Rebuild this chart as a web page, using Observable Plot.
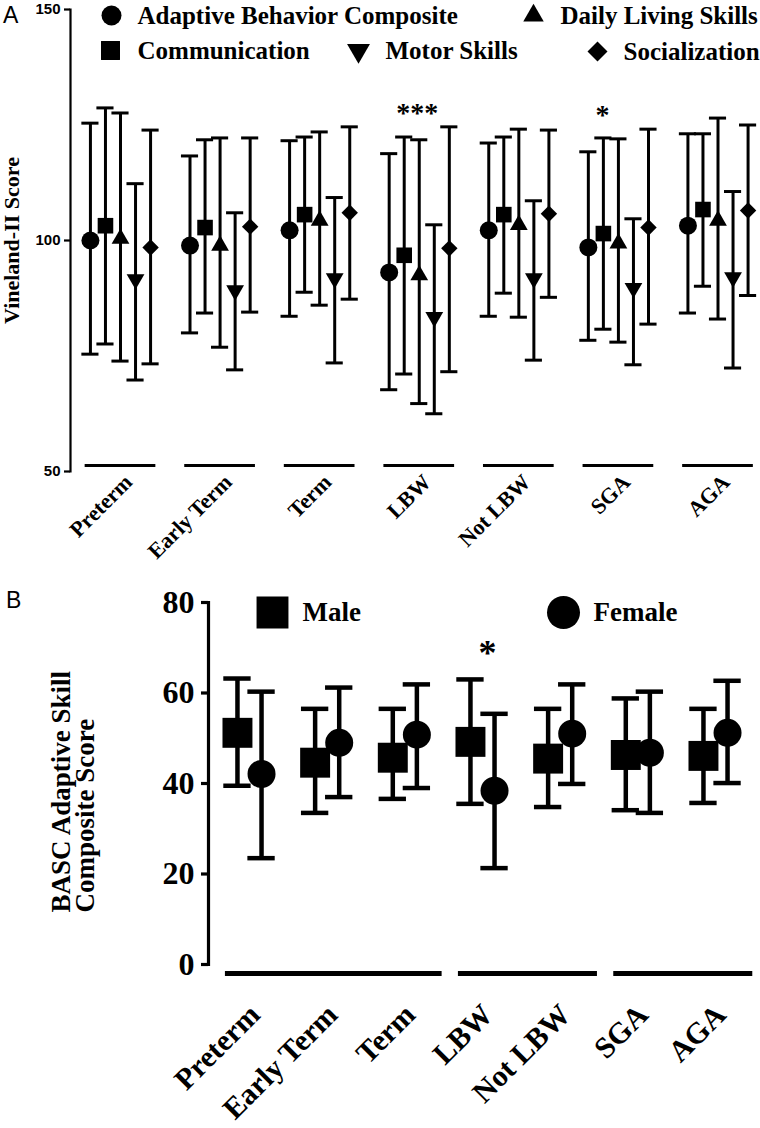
<!DOCTYPE html>
<html><head><meta charset="utf-8">
<script src="https://cdn.jsdelivr.net/npm/d3@7"></script>
<script src="https://cdn.jsdelivr.net/npm/@observablehq/plot@0.6"></script>
<style>
body{margin:0;background:#fff;}
#wrap{position:relative;width:760px;height:1128px;overflow:hidden;}
#wrap svg{display:block;}
.panel-letter{position:absolute;font-family:"Liberation Sans",Arial,sans-serif;font-size:23px;line-height:1;color:#000;}
</style></head><body>
<div id="wrap"></div>
<script>
// ---------------- data ----------------
const groups = ["Preterm", "Early Term", "Term", "LBW", "Not LBW", "SGA", "AGA"];

// Panel A: Vineland-II scores (mean, lower and upper whisker)
const vinelandSeries = ["Adaptive Behavior Composite", "Communication", "Daily Living Skills", "Motor Skills", "Socialization"];
const abcMean  = [100.0, 98.9, 102.2, 93.1, 102.2, 98.5, 103.2];
const abcLow   = [75.4, 80.0, 83.6, 67.7, 83.6, 78.4, 84.3];
const abcHigh  = [125.4, 118.3, 121.6, 118.8, 121.1, 119.2, 123.1];
const commMean = [103.2, 102.8, 105.6, 96.8, 105.6, 101.5, 106.7];
const commLow  = [77.6, 84.3, 88.8, 71.1, 88.6, 80.8, 90.1];
const commHigh = [128.7, 121.8, 122.4, 122.4, 122.4, 122.2, 123.1];
const dlsMean  = [100.4, 98.9, 104.3, 92.5, 103.4, 99.4, 104.3];
const dlsLow   = [73.9, 76.9, 86.0, 64.7, 83.4, 78.0, 83.0];
const dlsHigh  = [127.6, 122.2, 123.5, 121.8, 124.1, 122.0, 126.5];
const motorMean = [91.6, 89.2, 91.8, 83.4, 91.8, 89.7, 92.0];
const motorLow  = [69.8, 72.0, 73.5, 62.5, 74.1, 73.1, 72.4];
const motorHigh = [112.3, 106.0, 109.3, 103.4, 108.6, 104.7, 110.6];
const socMean  = [98.5, 103.0, 106.0, 98.3, 105.8, 102.8, 106.5];
const socLow   = [73.3, 84.5, 87.3, 71.6, 87.7, 81.9, 88.1];
const socHigh  = [123.9, 122.2, 124.6, 124.6, 123.9, 124.1, 125.0];
const vinelandSig = ["", "", "", "***", "", "*", ""];
const vinelandTicks = [50, 100, 150];

// Panel B: BASC Adaptive Skill Composite (mean, lower and upper whisker)
const sexSeries = ["Male", "Female"];
const maleMean   = [51.2, 44.6, 45.7, 49.2, 45.5, 46.3, 46.1];
const maleLow    = [39.5, 33.5, 36.6, 35.5, 34.8, 34.1, 35.7];
const maleHigh   = [63.2, 56.5, 56.5, 63.0, 56.5, 58.8, 56.5];
const femaleMean = [42.1, 49.0, 50.8, 38.4, 51.0, 46.8, 51.2];
const femaleLow  = [23.5, 37.0, 39.0, 21.3, 39.9, 33.5, 40.1];
const femaleHigh = [60.3, 61.2, 61.9, 55.4, 61.9, 60.3, 62.7];
const bascSig = ["", "", "", "*", "", "", ""];
const bascTicks = [0, 20, 40, 60, 80];
const bascSpans = [["Preterm", "Term"], ["LBW", "Not LBW"], ["SGA", "AGA"]];

// ---------------- helpers ----------------
const triangleDown = {
  draw(context, size) {
    const y = -Math.sqrt(size / (3 * Math.sqrt(3)));
    context.moveTo(0, -y * 2);
    context.lineTo(-Math.sqrt(3) * y, y);
    context.lineTo(Math.sqrt(3) * y, y);
    context.closePath();
  }
};
const serif = '"Liberation Serif", "Times New Roman", serif';
const sans = '"Liberation Sans", Arial, sans-serif';
const wrap = document.getElementById("wrap");

// ---------------- Panel A ----------------
const statsA = [
  [abcMean, abcLow, abcHigh],
  [commMean, commLow, commHigh],
  [dlsMean, dlsLow, dlsHigh],
  [motorMean, motorLow, motorHigh],
  [socMean, socLow, socHigh]
];
const tableA = vinelandSeries.flatMap((s, si) => groups.map((g, gi) => ({
  series: s, group: g, gi, si,
  mean: statsA[si][0][gi], lo: statsA[si][1][gi], hi: statsA[si][2][gi]
})));
const styleA = {
  "Adaptive Behavior Composite": {symbol: "circle", r: 9, lr: 10},
  "Communication": {symbol: "square", r: 8.8, lr: 10.7},
  "Daily Living Skills": {symbol: "triangle", r: 6.6, lr: 7.6},
  "Motor Skills": {symbol: triangleDown, r: 6.6, lr: 8.5},
  "Socialization": {symbol: "diamond2", r: 7.4, lr: 9}
};
const legendA = [
  {series: "Adaptive Behavior Composite", cx: 111, cy: 15, tx: 137},
  {series: "Daily Living Skills", cx: 533, cy: 15, tx: 560},
  {series: "Communication", cx: 110, cy: 50, tx: 137},
  {series: "Motor Skills", cx: 358, cy: 50, tx: 385},
  {series: "Socialization", cx: 597, cy: 51, tx: 623}
];
const A_LEFT = 70, A_TOP = 9;
const xA = d => d.gi + (d.si - 2) * 0.151;
const capA = 0.086;
const sigA = groups.map((g, i) => ({i, label: vinelandSig[i], top: d3.max(tableA.filter(d => d.gi === i), d => d.hi)})).filter(d => d.label);

const plotA = Plot.plot({
  width: 760, height: 580,
  marginTop: A_TOP, marginBottom: 109, marginLeft: A_LEFT, marginRight: 0,
  style: {fontFamily: serif, color: "black", background: "white", overflow: "visible"},
  x: {domain: [0, 6], range: [120, 717.5], axis: null},
  y: {domain: [50, 150]},
  marks: [
    Plot.frame({anchor: "left", strokeWidth: 2.2}),
    Plot.axisY({ticks: vinelandTicks, tickSize: 6, tickPadding: 4, label: null, fontSize: 15, fontFamily: sans, fontWeight: "bold", strokeWidth: 2.2}),
    Plot.text(["Vineland-II Score"], {frameAnchor: "left", rotate: -90, textAnchor: "middle", lineAnchor: "middle", dx: -59, fontSize: 22, fontWeight: "bold"}),
    Plot.ruleY(groups, {x1: (d, i) => i - 0.355, x2: (d, i) => i + 0.355, y: () => 50, dy: -6, strokeWidth: 3.2}),
    Plot.text(groups, {x: (d, i) => i, frameAnchor: "bottom", rotate: -45, textAnchor: "end", lineAnchor: "top", dx: 2, dy: 1, fontSize: 22, fontWeight: "bold"}),
    Plot.ruleX(tableA, {x: xA, y1: "lo", y2: "hi", strokeWidth: 3}),
    Plot.ruleY(tableA, {x1: d => xA(d) - capA, x2: d => xA(d) + capA, y: "hi", strokeWidth: 3}),
    Plot.ruleY(tableA, {x1: d => xA(d) - capA, x2: d => xA(d) + capA, y: "lo", strokeWidth: 3}),
    ...vinelandSeries.map(s => Plot.dot(tableA.filter(d => d.series === s), {x: xA, y: "mean", symbol: styleA[s].symbol, r: styleA[s].r, fill: "black", stroke: "none"})),
    Plot.text(sigA, {x: "i", y: "top", text: "label", textAnchor: "start", dx: -23, dy: -14, fontSize: 28, fontWeight: "bold"}),
    ...legendA.flatMap(L => [
      Plot.dot([L.series], {frameAnchor: "top-left", dx: L.cx - A_LEFT, dy: L.cy - A_TOP, symbol: styleA[L.series].symbol, r: styleA[L.series].lr, fill: "black", stroke: "none"}),
      Plot.text([L.series], {frameAnchor: "top-left", dx: L.tx - A_LEFT, dy: L.cy - A_TOP, textAnchor: "start", lineAnchor: "middle", fontSize: 25, fontWeight: "bold"})
    ])
  ]
});
wrap.appendChild(plotA);

// ---------------- Panel B ----------------
const statsB = [[maleMean, maleLow, maleHigh], [femaleMean, femaleLow, femaleHigh]];
const tableB = sexSeries.flatMap((s, si) => groups.map((g, gi) => ({
  series: s, group: g, gi, si,
  mean: statsB[si][0][gi], lo: statsB[si][1][gi], hi: statsB[si][2][gi]
})));
const styleB = {
  "Male": {symbol: "square", r: 16.9, lr: 18},
  "Female": {symbol: "circle", r: 14, lr: 16.5}
};
const legendB = [
  {series: "Male", cx: 272, cy: 32, tx: 302},
  {series: "Female", cx: 563, cy: 32, tx: 593}
];
const B_LEFT = 208, B_TOP = 22;
const xB = d => d.gi + (d.si === 0 ? -0.155 : 0.155);
const capB = 0.176;
const sigB = groups.map((g, i) => ({i, label: bascSig[i], top: d3.max(tableB.filter(d => d.gi === i), d => d.hi)})).filter(d => d.label);

const plotB = Plot.plot({
  width: 760, height: 548,
  marginTop: B_TOP, marginBottom: 164, marginLeft: B_LEFT, marginRight: 0,
  style: {fontFamily: serif, color: "black", background: "white", overflow: "visible"},
  x: {domain: [0, 6], range: [249, 715], axis: null},
  y: {domain: [0, 80]},
  marks: [
    Plot.frame({anchor: "left", strokeWidth: 3.2}),
    Plot.axisY({ticks: bascTicks, tickSize: 7, tickPadding: 7, label: null, fontSize: 32, fontWeight: "bold", strokeWidth: 3.2}),
    Plot.text(["BASC Adaptive Skill\nComposite Score"], {frameAnchor: "bottom-left", rotate: -90, textAnchor: "start", lineAnchor: "middle", lineHeight: 0.9, dx: -134, dy: -52, fontSize: 27, fontWeight: "bold"}),
    Plot.ruleY(bascSpans, {x1: d => groups.indexOf(d[0]) - 0.31, x2: d => groups.indexOf(d[1]) + 0.48, y: () => 0, dy: 9, strokeWidth: 5}),
    Plot.text(groups, {x: (d, i) => i, frameAnchor: "bottom", rotate: -45, textAnchor: "end", lineAnchor: "top", dx: -3, dy: 37, fontSize: 30, fontWeight: "bold"}),
    Plot.ruleX(tableB, {x: xB, y1: "lo", y2: "hi", strokeWidth: 4.5}),
    Plot.ruleY(tableB, {x1: d => xB(d) - capB, x2: d => xB(d) + capB, y: "hi", strokeWidth: 4.5}),
    Plot.ruleY(tableB, {x1: d => xB(d) - capB, x2: d => xB(d) + capB, y: "lo", strokeWidth: 4.5}),
    ...sexSeries.map(s => Plot.dot(tableB.filter(d => d.series === s), {x: xB, y: "mean", symbol: styleB[s].symbol, r: styleB[s].r, fill: "black", stroke: "none"})),
    Plot.text(sigB, {x: "i", y: "top", text: "label", dx: 5, dy: -26, fontSize: 36, fontWeight: "bold"}),
    ...legendB.flatMap(L => [
      Plot.dot([L.series], {frameAnchor: "top-left", dx: L.cx - B_LEFT, dy: L.cy - B_TOP, symbol: styleB[L.series].symbol, r: styleB[L.series].lr, fill: "black", stroke: "none"}),
      Plot.text([L.series], {frameAnchor: "top-left", dx: L.tx - B_LEFT, dy: L.cy - B_TOP, textAnchor: "start", lineAnchor: "middle", fontSize: 27, fontWeight: "bold"})
    ])
  ]
});
wrap.appendChild(plotB);

// panel letters
for (const [t, l, tp] of [["A", 3, 4], ["B", 6, 589]]) {
  const el = document.createElement("div");
  el.className = "panel-letter";
  el.style.left = l + "px"; el.style.top = tp + "px";
  el.textContent = t;
  wrap.appendChild(el);
}
</script>
</body></html>
